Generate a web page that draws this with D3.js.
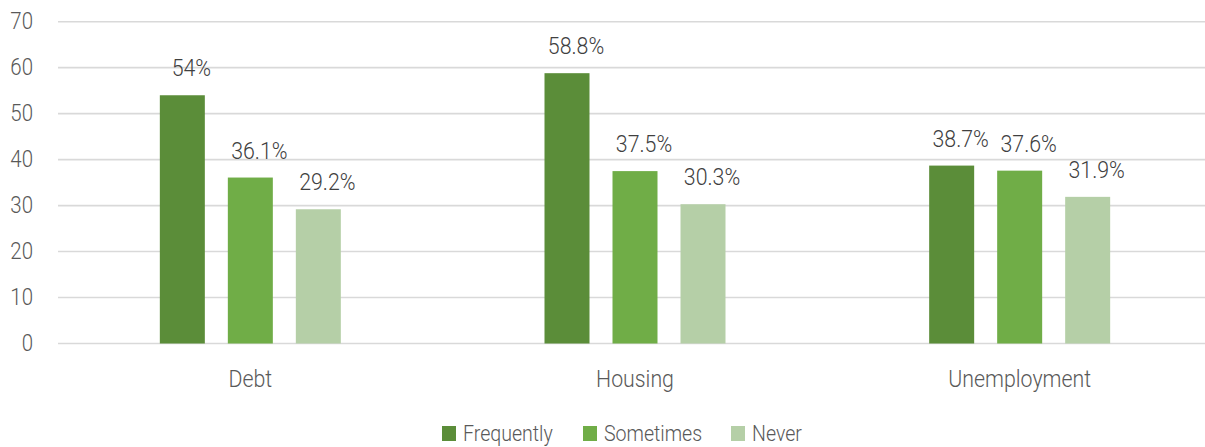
<!DOCTYPE html>
<html>
<head>
<meta charset="utf-8">
<script src="https://cdn.jsdelivr.net/npm/d3@7"></script>
<style>
  html, body { margin: 0; padding: 0; background: #fff; }
  svg { display: block; }
  text { font-family: Roboto, "Noto Sans", sans-serif; font-weight: 300; }
</style>
</head>
<body>
<svg id="chart" width="1205" height="447"></svg>
<script>
// Survey results by topic and frequency
const categories = ["Debt", "Housing", "Unemployment"];
const seriesNames = ["Frequently", "Sometimes", "Never"];
const frequently = [54, 58.8, 38.7];
const sometimes = [36.1, 37.5, 37.6];
const never = [29.2, 30.3, 31.9];
const valueLabels = [
  ["54%", "58.8%", "38.7%"],
  ["36.1%", "37.5%", "37.6%"],
  ["29.2%", "30.3%", "31.9%"]
];
const yTicks = [0, 10, 20, 30, 40, 50, 60, 70];
const colors = ["#5b8d39", "#70ad47", "#b5cfa7"];

const seriesValues = [frequently, sometimes, never];
const rows = categories.map((c, i) => ({
  category: c,
  bars: seriesNames.map((s, j) => ({ series: s, value: seriesValues[j][i], label: valueLabels[j][i], idx: j }))
}));

const svg = d3.select("#chart");
const squeeze = 0.87; // narrow glyph width

const y = d3.scaleLinear().domain([0, 70]).range([343.5, 21.7]);
const x0 = d3.scaleBand().domain(categories).range([58, 1212]).paddingInner(0).paddingOuter(0);
const groupWidth = 181;
const x1 = d3.scaleBand().domain(seriesNames).range([0, groupWidth]).paddingInner(23 / 68).paddingOuter(0);
const groupOffset = (x0.bandwidth() - groupWidth) / 2;

// gridlines
svg.append("g").selectAll("line")
  .data(yTicks)
  .join("line")
  .attr("x1", 58).attr("x2", 1205)
  .attr("y1", d => y(d)).attr("y2", d => y(d))
  .attr("stroke", "#d9d9d9").attr("stroke-width", 1.6);

// y tick labels
svg.append("g").selectAll("text")
  .data(yTicks)
  .join("text")
  .attr("transform", d => `translate(33,${y(d) + 7}) scale(${squeeze},1)`)
  .attr("text-anchor", "end")
  .attr("font-size", 23.5)
  .attr("fill", "#595959")
  .text(d => d);

// bars
const groups = svg.append("g").selectAll("g")
  .data(rows)
  .join("g")
  .attr("transform", d => `translate(${x0(d.category) + groupOffset},0)`);

groups.selectAll("rect")
  .data(d => d.bars)
  .join("rect")
  .attr("x", d => x1(d.series))
  .attr("width", x1.bandwidth())
  .attr("y", d => y(d.value))
  .attr("height", d => y(0) - y(d.value))
  .attr("fill", d => colors[d.idx]);

// value labels
groups.selectAll("text")
  .data(d => d.bars)
  .join("text")
  .attr("transform", d => `translate(${x1(d.series) + x1.bandwidth() / 2 + 9},${y(d.value) - 19}) scale(${squeeze},1)`)
  .attr("text-anchor", "middle")
  .attr("font-size", 24.5)
  .attr("fill", "#404040")
  .text(d => d.label);

// category labels
svg.append("g").selectAll("text")
  .data(categories)
  .join("text")
  .attr("transform", d => `translate(${x0(d) + x0.bandwidth() / 2},386.5) scale(${squeeze},1)`)
  .attr("text-anchor", "middle")
  .attr("font-size", 24.5)
  .attr("fill", "#595959")
  .text(d => d);

// legend
const legendX = [442, 583, 731];
const legend = svg.append("g").selectAll("g")
  .data(seriesNames)
  .join("g")
  .attr("transform", (d, i) => `translate(${legendX[i]},426)`);
legend.append("rect")
  .attr("width", 14).attr("height", 15)
  .attr("fill", (d, i) => colors[i]);
legend.append("text")
  .attr("transform", `translate(21,14.5) scale(${squeeze},1)`)
  .attr("font-size", 22.5)
  .attr("fill", "#595959")
  .text(d => d);
</script>
</body>
</html>
